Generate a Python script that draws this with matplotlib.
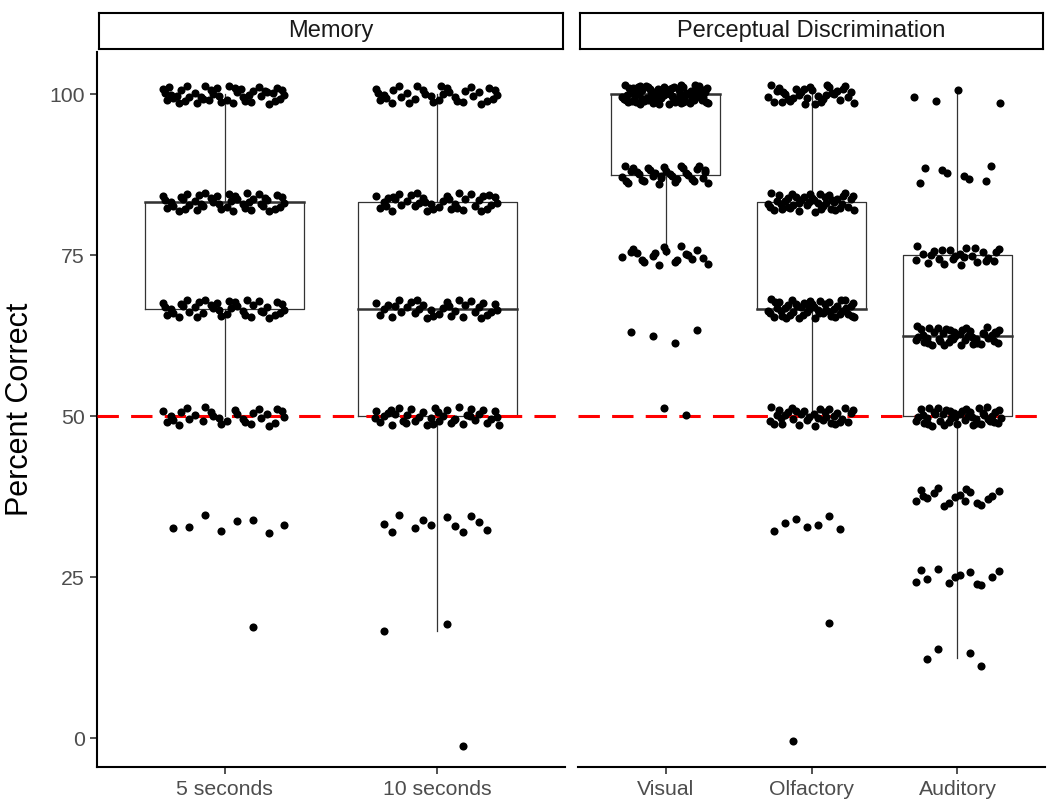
import numpy as np
import matplotlib
matplotlib.use("Agg")
import matplotlib.pyplot as plt

plt.rcParams['font.family'] = ['Liberation Sans', 'DejaVu Sans']

# score levels (percent correct) and how many participants sit at each level
mem_groups = ['5 seconds', '10 seconds']
per_groups = ['Visual', 'Olfactory', 'Auditory']

levels_5s = [100, 83.3, 66.7, 50, 33.3, 16.7]
counts_5s = [45, 45, 40, 30, 8, 1]
levels_10s = [100, 83.3, 66.7, 50, 33.3, 16.7, 0]
counts_10s = [35, 40, 35, 40, 12, 2, 1]
levels_vis = [100, 87.5, 75, 62.5, 50]
counts_vis = [80, 35, 20, 4, 2]
levels_olf = [100, 83.3, 66.7, 50, 33.3, 16.7, 0]
counts_olf = [35, 45, 50, 35, 7, 1, 1]
levels_aud = [100, 87.5, 75, 62.5, 50, 37.5, 25, 12.5]
counts_aud = [4, 8, 25, 45, 45, 18, 12, 4]

# box summaries: whisker low, q1, median, q3, whisker high
box_mem = [(50, 66.7, 83.3, 83.3, 100), (16.7, 50, 66.7, 83.3, 100)]
box_per = [(75, 87.5, 100, 100, 100), (50, 66.7, 66.7, 83.3, 100),
           (12.5, 50, 62.5, 75, 100)]

mem_data = [(levels_5s, counts_5s), (levels_10s, counts_10s)]
per_data = [(levels_vis, counts_vis), (levels_olf, counts_olf),
            (levels_aud, counts_aud)]

chance = 50


def halton(i, base):
    f, r = 1.0, 0.0
    while i > 0:
        f /= base
        r += f * (i % base)
        i //= base
    return r


def jitter(n, start):
    # deterministic Halton spread in [-1, 1] (x base 2, y base 3)
    idx = range(start, start + n)
    jx = np.array([halton(i, 2) for i in idx]) * 2 - 1
    jy = np.array([halton(i, 3) for i in idx]) * 2 - 1
    return jx, jy


def draw_panel(ax, groups, data, boxes, start):
    n = len(groups)
    for k, (lv, ct) in enumerate(data):
        lo, q1, med, q3, hi = boxes[k]
        x = k + 1
        w = 0.375
        ax.plot([x - w, x + w, x + w, x - w, x - w], [q1, q1, q3, q3, q1],
                color='#333333', lw=0.9, zorder=2)
        ax.plot([x - w, x + w], [med, med], color='#333333', lw=1.8, zorder=2)
        ax.plot([x, x], [hi, q3], color='#333333', lw=0.9, zorder=2)
        ax.plot([x, x], [q1, lo], color='#333333', lw=0.9, zorder=2)
        ys = []
        xs = []
        for j, (v, c) in enumerate(zip(lv, ct)):
            jx, jy = jitter(c, start + 11 * k + 5 * j + 1)
            xs.extend(x + 0.3 * jx)
            ys.extend(v + 1.5 * jy)
        ax.scatter(xs, ys, s=34, color='black', linewidths=0, zorder=4)
    ax.axhline(chance, color='#FF0000', lw=2.2, dashes=(7, 4), zorder=3)
    ax.set_xlim(0.4, n + 0.6)
    ax.set_ylim(-4.5, 106.6)
    ax.set_xticks(range(1, n + 1))
    ax.set_xticklabels(groups, fontsize=15.3, color='#4D4D4D')
    for s in ['top', 'right']:
        ax.spines[s].set_visible(False)
    ax.spines['bottom'].set_linewidth(1.5)
    ax.spines['left'].set_linewidth(1.5)
    ax.tick_params(axis='both', length=5, width=1.2, color='#333333', pad=4)


fig = plt.figure(figsize=(10.5, 8.09), dpi=100)
ax1 = fig.add_axes([0.0924, 0.0519, 0.4457, 0.8838])
ax2 = fig.add_axes([0.5505, 0.0519, 0.4448, 0.8838])

draw_panel(ax1, mem_groups, mem_data, box_mem, 3)
draw_panel(ax2, per_groups, per_data, box_per, 40)

ax1.set_yticks([0, 25, 50, 75, 100])
ax1.set_yticklabels(['0', '25', '50', '75', '100'], fontsize=15.3, color='#4D4D4D')
ax1.set_ylabel('Percent Correct', fontsize=22, labelpad=10)

ax2.spines['left'].set_visible(False)
ax2.set_yticks([])

# facet strips
for ax, title in [(ax1, 'Memory'), (ax2, 'Perceptual Discrimination')]:
    pos = ax.get_position()
    st = fig.add_axes([pos.x0 + 0.002, 0.9394, pos.width - 0.004, 0.0445])
    st.set_xticks([])
    st.set_yticks([])
    for s in st.spines.values():
        s.set_linewidth(1.5)
    st.text(0.5, 0.5, title, ha='center', va='center', fontsize=17,
            color='#1A1A1A', transform=st.transAxes)

fig.savefig('out.png', dpi=100)
